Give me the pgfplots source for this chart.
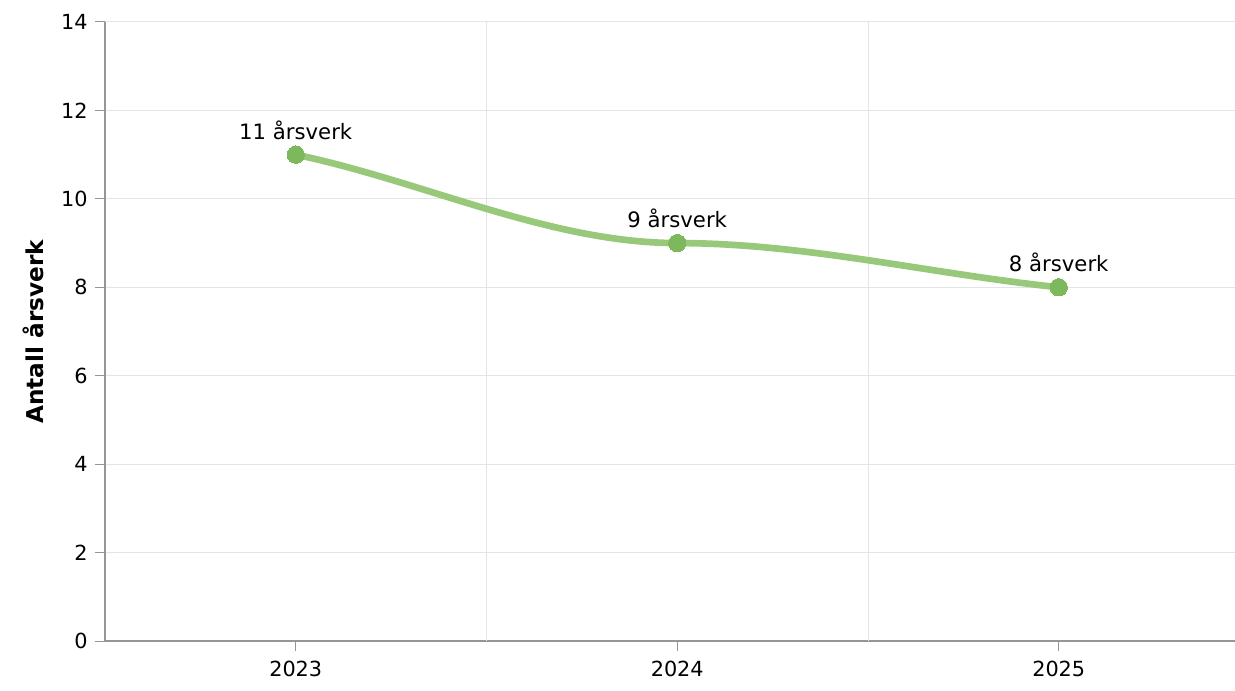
\documentclass[border=0pt]{standalone}
\usepackage{pgfplots}
\pgfplotsset{compat=1.18}
\usepackage{fontspec}
\setmainfont{DejaVu Sans}
\definecolor{linegreen}{RGB}{152,200,122}
\definecolor{markgreen}{RGB}{126,184,92}
\definecolor{gridgray}{RGB}{228,228,228}
\definecolor{axisgray}{RGB}{150,150,150}
% plot handler: cubic segments, flat tangent at inner points, near-chord tangent at ends
\makeatletter
\newif\ifhf@afirst
\def\pgfplothandlerflatspline{%
  \def\pgf@plotstreamstart{%
    \global\let\pgf@plotstreampoint=\hf@first
    \global\let\pgf@plotstreamspecial=\pgfutil@gobble
    \global\let\pgf@plotstreamend=\hf@end}%
}
\def\hf@first#1{%
  \pgf@process{#1}%
  \xdef\hf@ax{\the\pgf@x}\xdef\hf@ay{\the\pgf@y}%
  \pgfpathmoveto{\pgfqpoint{\hf@ax}{\hf@ay}}%
  \global\hf@afirsttrue
  \global\let\pgf@plotstreampoint=\hf@second}
\def\hf@second#1{%
  \pgf@process{#1}%
  \xdef\hf@bx{\the\pgf@x}\xdef\hf@by{\the\pgf@y}%
  \global\let\pgf@plotstreampoint=\hf@next}
\def\hf@next#1{%
  \pgf@process{#1}%
  \xdef\hf@cx{\the\pgf@x}\xdef\hf@cy{\the\pgf@y}%
  \hf@segment{0}%
  \global\let\hf@ax=\hf@bx \global\let\hf@ay=\hf@by
  \global\let\hf@bx=\hf@cx \global\let\hf@by=\hf@cy
  \global\hf@afirstfalse}
\def\hf@end{%
  \ifx\pgf@plotstreampoint\hf@next \hf@segment{1}\fi}
\def\hf@segment#1{%
  \pgf@xa=\hf@bx \advance\pgf@xa by -\hf@ax \pgf@xa=0.33333\pgf@xa
  \pgf@ya=\hf@by \advance\pgf@ya by -\hf@ay \pgf@ya=0.3\pgf@ya
  \pgf@xb=\hf@ax \advance\pgf@xb by \pgf@xa
  \pgf@yb=\hf@ay
  \ifhf@afirst \advance\pgf@yb by \pgf@ya \fi
  \pgf@xc=\hf@bx \advance\pgf@xc by -\pgf@xa
  \pgf@yc=\hf@by
  \ifnum#1=1 \advance\pgf@yc by -\pgf@ya \fi
  \edef\hf@marshal{\noexpand\pgfpathcurveto
    {\noexpand\pgfqpoint{\the\pgf@xb}{\the\pgf@yb}}%
    {\noexpand\pgfqpoint{\the\pgf@xc}{\the\pgf@yc}}%
    {\noexpand\pgfqpoint{\hf@bx}{\hf@by}}}%
  \hf@marshal}
\tikzset{flat spline/.code={\let\tikz@plot@handler=\pgfplothandlerflatspline}}
\makeatother
\begin{document}
\begin{tikzpicture}[x=1pt,y=1pt]
\begin{axis}[
  name=ax,
  at={(0,0)}, anchor=south west,
  scale only axis,
  width=847.5pt, height=464.25pt,
  xmin=-0.5, xmax=2.462,
  ymin=0, ymax=14,
  ytick={0,2,...,14},
  xtick={0,1,2},
  xticklabels={2023,2024,2025},
  extra x ticks={0.5,1.5},
  extra x tick labels={},
  extra x tick style={grid=major, major tick length=0pt, major grid style={gridgray, line width=0.75pt}},
  ymajorgrids,
  major grid style={gridgray, line width=0.75pt},
  axis x line*=bottom,
  axis y line*=left,
  axis line style={axisgray, line width=0.9pt, -},
  tick style={axisgray, line width=0.75pt},
  tick align=outside,
  major tick length=7.5pt,
  font=\fontsize{15.6}{18}\selectfont,
  /pgf/number format/assume math mode=true,
  yticklabel style={xshift=-2pt},
  xticklabel style={yshift=-4pt},
  ylabel={\textbf{Antall årsverk}},
  ylabel style={font=\fontsize{17.4}{20}\selectfont\bfseries, yshift=6.5pt},
  clip=false,
]
\addplot[flat spline, color=linegreen, line width=5pt,
  mark=*, mark size=6.5pt, mark options={fill=markgreen, draw=markgreen, line width=0pt},
  nodes near coords, point meta=explicit symbolic,
  every node near coord/.append style={font=\fontsize{15.9}{18}\selectfont, text=black, yshift=8pt}]
  coordinates {(0,11) [11 årsverk] (1,9) [9 årsverk] (2,8) [8 årsverk]};
\end{axis}
\pgfresetboundingbox
\path[use as bounding box] ([shift={(-78.75pt,-36.75pt)}]ax.south west) rectangle ([shift={(0pt,16.5pt)}]ax.north east);
\end{tikzpicture}
\end{document}
